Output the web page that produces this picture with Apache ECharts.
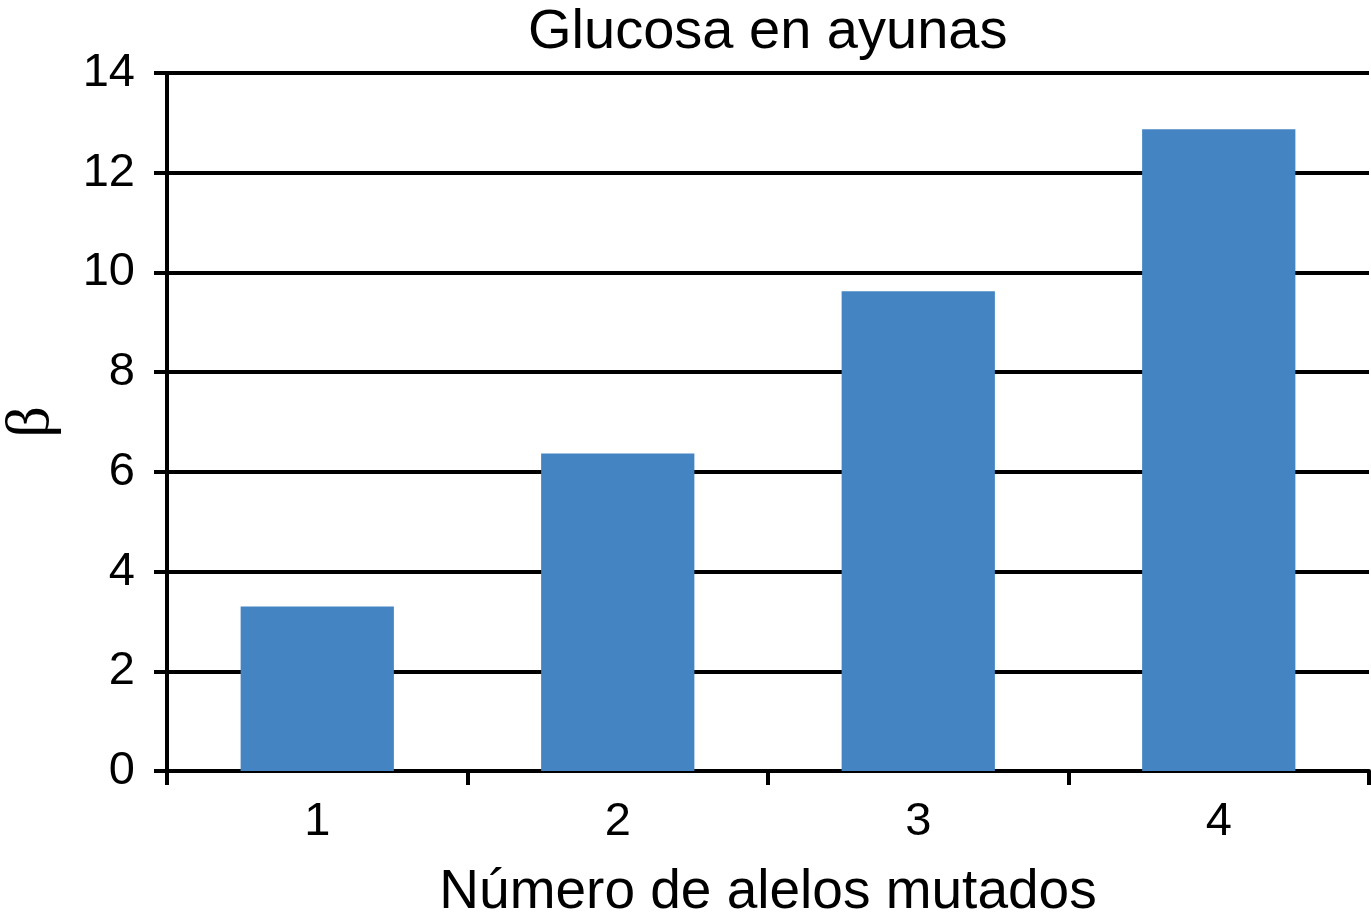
<!DOCTYPE html>
<html>
<head>
<meta charset="utf-8">
<script src="https://cdn.jsdelivr.net/npm/echarts@6/dist/echarts.min.js"></script>
<style>
html,body{margin:0;padding:0;background:#fff;}
#c{width:1371px;height:923px;}
</style>
</head>
<body>
<div id="c"></div>
<script>
const categories = ['1', '2', '3', '4'];
const betaValues = [3.3, 6.37, 9.62, 12.87];
const yTicks = [0, 2, 4, 6, 8, 10, 12, 14];

const chart = echarts.init(document.getElementById('c'), null, {renderer: 'canvas'});
const FONT = '"Liberation Sans", Arial, Helvetica, sans-serif';
chart.setOption({
  animation: false,
  backgroundColor: '#ffffff',
  title: {
    text: 'Glucosa en ayunas',
    left: 523,
    top: 0,
    textStyle: {fontFamily: FONT, fontSize: 56, fontWeight: 'normal', color: '#000'}
  },
  grid: {left: 167, right: 2, top: 73, bottom: 152, containLabel: false, outerBoundsMode: 'none'},
  xAxis: {
    type: 'category',
    data: categories,
    name: 'Número de alelos mutados',
    nameLocation: 'middle',
    nameGap: 94,
    nameTextStyle: {fontFamily: FONT, fontSize: 55, color: '#000'},
    axisLine: {show: true, lineStyle: {color: '#000', width: 4}},
    axisTick: {show: true, alignWithLabel: false, length: 14, lineStyle: {color: '#000', width: 4}},
    axisLabel: {fontFamily: FONT, fontSize: 47, color: '#000', margin: 28}
  },
  yAxis: {
    type: 'value',
    min: yTicks[0],
    max: yTicks[yTicks.length - 1],
    interval: 2,
    name: 'β',
    nameLocation: 'middle',
    nameGap: 104,
    nameRotate: 90,
    nameTextStyle: {fontFamily: '"Liberation Serif", "DejaVu Serif", serif', fontSize: 62, color: '#000'},
    axisLine: {show: true, lineStyle: {color: '#000', width: 4}},
    axisTick: {show: true, length: 13, lineStyle: {color: '#000', width: 4}},
    axisLabel: {fontFamily: FONT, fontSize: 47, color: '#000', margin: 32},
    splitLine: {show: true, lineStyle: {color: '#000', width: 4}}
  },
  series: [{
    type: 'bar',
    data: betaValues,
    barCategoryGap: '49%',
    itemStyle: {color: '#4484C2'}
  }]
});
</script>
</body>
</html>
